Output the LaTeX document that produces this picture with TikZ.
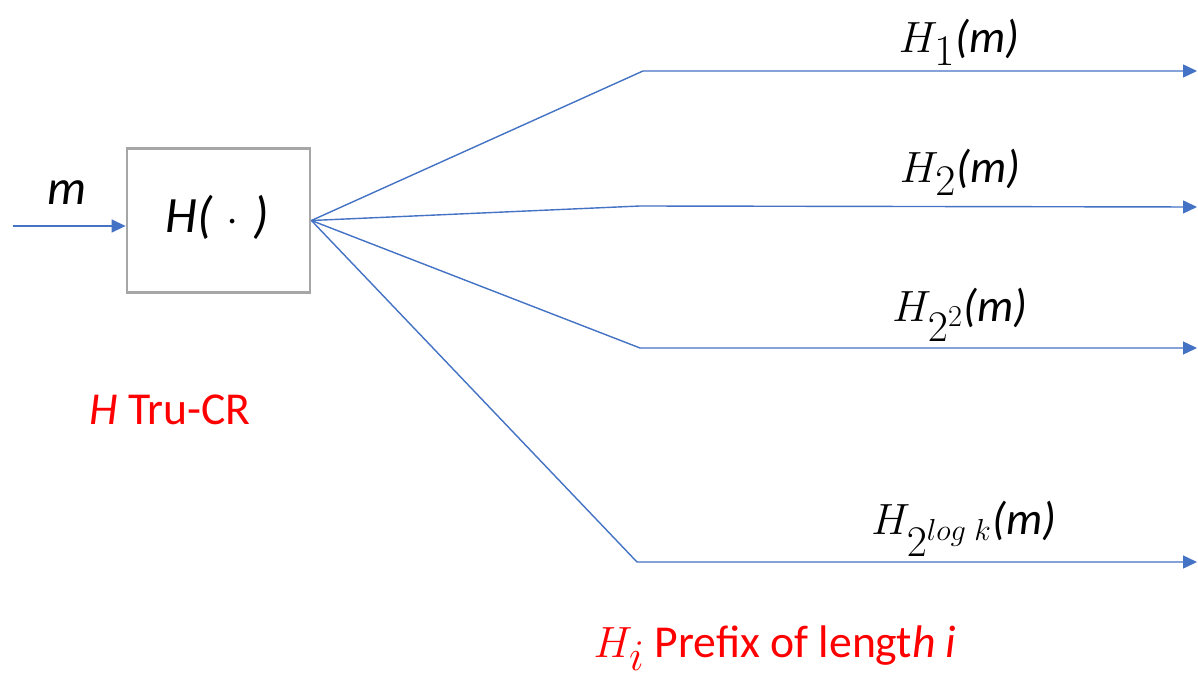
\documentclass[tikz,border=0pt]{standalone}
\usepackage{fontspec}
\setmainfont{Carlito}
\usetikzlibrary{arrows.meta}

\definecolor{flowblue}{HTML}{4472C4}

\begin{document}
\begin{tikzpicture}[
  font=\fontsize{25}{30}\selectfont, >={Triangle[length=0.28cm,width=0.26cm]},
  flow/.style={draw=flowblue, line width=0.8pt},
  hashbox/.style={draw=black!35, line width=1.6pt, minimum width=3.66cm, minimum height=2.88cm,
                  font=\fontsize{29}{34}\selectfont\itshape},
  outlbl/.style={font=\fontsize{26}{31}\selectfont},
  note/.style={text=red, font=\fontsize{26}{31}\selectfont},
]
  \useasboundingbox (0,0) rectangle (23.96,-13.6);

  \node[hashbox] (hbox) at (4.37,-4.41) {};
  \node[font=\fontsize{29}{34}\selectfont\itshape] (hlbl) at (4.34,-4.34) {H(\;$\cdot$\;)};

  % input
  \coordinate (src) at (0.26,-4.52);
  \draw[flow,->] (src) -- (src -| hbox.west);
  \node[font=\fontsize{28}{33}\selectfont\itshape] (msg) at (1.34,-3.86) {m};

  % fan out
  \coordinate (k1) at (12.86,-1.42);
  \coordinate (k2) at (12.80,-4.12);
  \coordinate (k3) at (12.80,-6.96);
  \coordinate (k4) at (12.74,-11.24);
  \coordinate (e1) at (23.94,-1.42);
  \coordinate (e2) at (23.94,-4.14);
  \coordinate (e3) at (23.94,-6.96);
  \coordinate (e4) at (23.94,-11.24);

  \foreach \i in {1,...,4}
    \draw[flow,->] (hbox.east) -- (k\i) -- (e\i);

  % outputs
  \node[outlbl] (o1) at (19.18,-0.84) {$H_{\textstyle 1}$\textit{(m)}};
  \node[outlbl] (o2) at (19.20,-3.44) {$H_{\textstyle 2}$\textit{(m)}};
  \node[outlbl] (o3) at (19.20,-6.30) {$H_{\textstyle 2^2}$\textit{(m)}};
  \node[outlbl] (o4) at (19.28,-10.58) {$H_{\textstyle 2^{log\;k}}$\textit{(m)}};

  % notes
  \node[note] (tru) at (3.40,-8.20) {\textit{H} Tru-CR};
  \node[note] (pre) at (15.50,-12.96) {$H_{\textstyle i}$ Prefix of lengt\textit{h i}};
\end{tikzpicture}
\end{document}
